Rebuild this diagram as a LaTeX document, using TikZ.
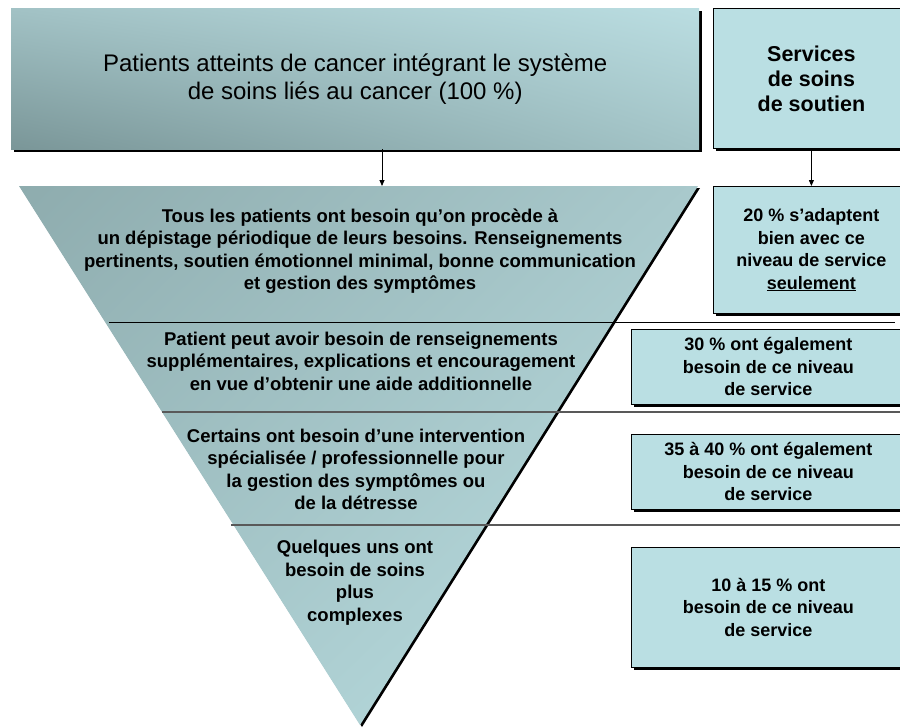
\documentclass[tikz,border=0pt]{standalone}
\usepackage{fontspec}
\setmainfont{Liberation Sans}
\usetikzlibrary{arrows.meta,shadows,shadings}

\definecolor{boxcyan}{HTML}{BADFE3}
\definecolor{topUL}{HTML}{A2C2C5}
\definecolor{topUR}{HTML}{BADDE1}
\definecolor{topLL}{HTML}{7A9698}
\definecolor{topLR}{HTML}{A3C4C7}
\definecolor{triUL}{HTML}{8EACAE}
\definecolor{triUR}{HTML}{A9C9CC}
\definecolor{triLL}{HTML}{A3C4C7}
\definecolor{triLR}{HTML}{BDE1E4}

\begin{document}
\begin{tikzpicture}[x=1pt,y=-1pt,
  hardshadow/.style={drop shadow={shadow xshift=3pt,shadow yshift=-3pt,fill=black,opacity=1}},
  servicebox/.style={draw=black,line width=0.8pt,fill=boxcyan,inner sep=0pt,
    anchor=north west,align=center,font=\bfseries\fontsize{18}{22.5}\selectfont,hardshadow},
  tiertext/.style={align=center,font=\bfseries\fontsize{18.5}{22.5}\selectfont},
  divider/.style={line width=1.2pt,draw=black!65},
  arr/.style={-{Triangle[width=5pt,length=6pt]},line width=0.8pt}
]
\useasboundingbox (0,0) rectangle (900,728);

% entry box: all cancer patients
\node[hardshadow,shade,upper left=topUL,upper right=topUR,lower left=topLL,lower right=topLR,
      minimum width=688pt,minimum height=141pt,inner sep=0pt,anchor=north west,align=center,
      font=\fontsize{24}{28}\selectfont] (patients) at (11,8)
  {Patients atteints de cancer intégrant le système\\de soins liés au cancer (100 \%)};

% supportive care services header
\node[servicebox,font=\bfseries\fontsize{21.5}{25}\selectfont,
      minimum width=196pt,minimum height=140pt] (services) at (713,8)
  {Services\\de soins\\de soutien};

% inverted pyramid of needs
\coordinate (triA) at (19,186);
\coordinate (triB) at (698,186);
\coordinate (triC) at (360,725);
\path[shade,upper left=triUL,upper right=triUR,lower left=triLL,lower right=triLR,
      drop shadow={shadow xshift=2pt,shadow yshift=-2pt,fill=black,opacity=1}]
  (triA) -- (triB) -- (triC) -- cycle;

% level dividers
\draw[line width=1pt,draw=black] (109,322) -- (895,322);
\draw[divider] (162,412) -- (905,412);
\draw[divider] (231,525) -- (905,525);

% needs at each level
\node[tiertext] (tier1) at (360,251)
  {Tous les patients ont besoin qu’on procède à\\un dépistage périodique de leurs besoins. Renseignements\\pertinents, soutien émotionnel minimal, bonne communication\\et gestion des symptômes};
\node[tiertext] (tier2) at (361,361)
  {Patient peut avoir besoin de renseignements\\supplémentaires, explications et encouragement\\en vue d’obtenir une aide additionnelle};
\node[tiertext] (tier3) at (356,469.5)
  {Certains ont besoin d’une intervention\\spécialisée / professionnelle pour\\la gestion des symptômes ou\\de la détresse};
\node[tiertext] (tier4) at (355,582.5)
  {Quelques uns ont\\besoin de soins\\plus\\complexes};

% share of patients per level
\node[servicebox,minimum width=196pt,minimum height=127pt] (share1) at (713,186)
  {20 \% s’adaptent\\bien avec ce\\niveau de service\\\underline{seulement}};
\node[servicebox,minimum width=274pt,minimum height=75pt] (share2) at (631,329)
  {30 \% ont également\\besoin de ce niveau\\de service};
\node[servicebox,minimum width=274pt,minimum height=75pt] (share3) at (631,434)
  {35 à 40 \% ont également\\besoin de ce niveau\\de service};
\node[servicebox,minimum width=274pt,minimum height=120pt] (share4) at (631,547)
  {10 à 15 \% ont\\besoin de ce niveau\\de service};

% flow arrows
\coordinate (entry) at (382,186);
\draw[arr] (patients.south -| entry) -- (entry);
\draw[arr] (services.south) -- (share1.north);
\end{tikzpicture}
\end{document}
